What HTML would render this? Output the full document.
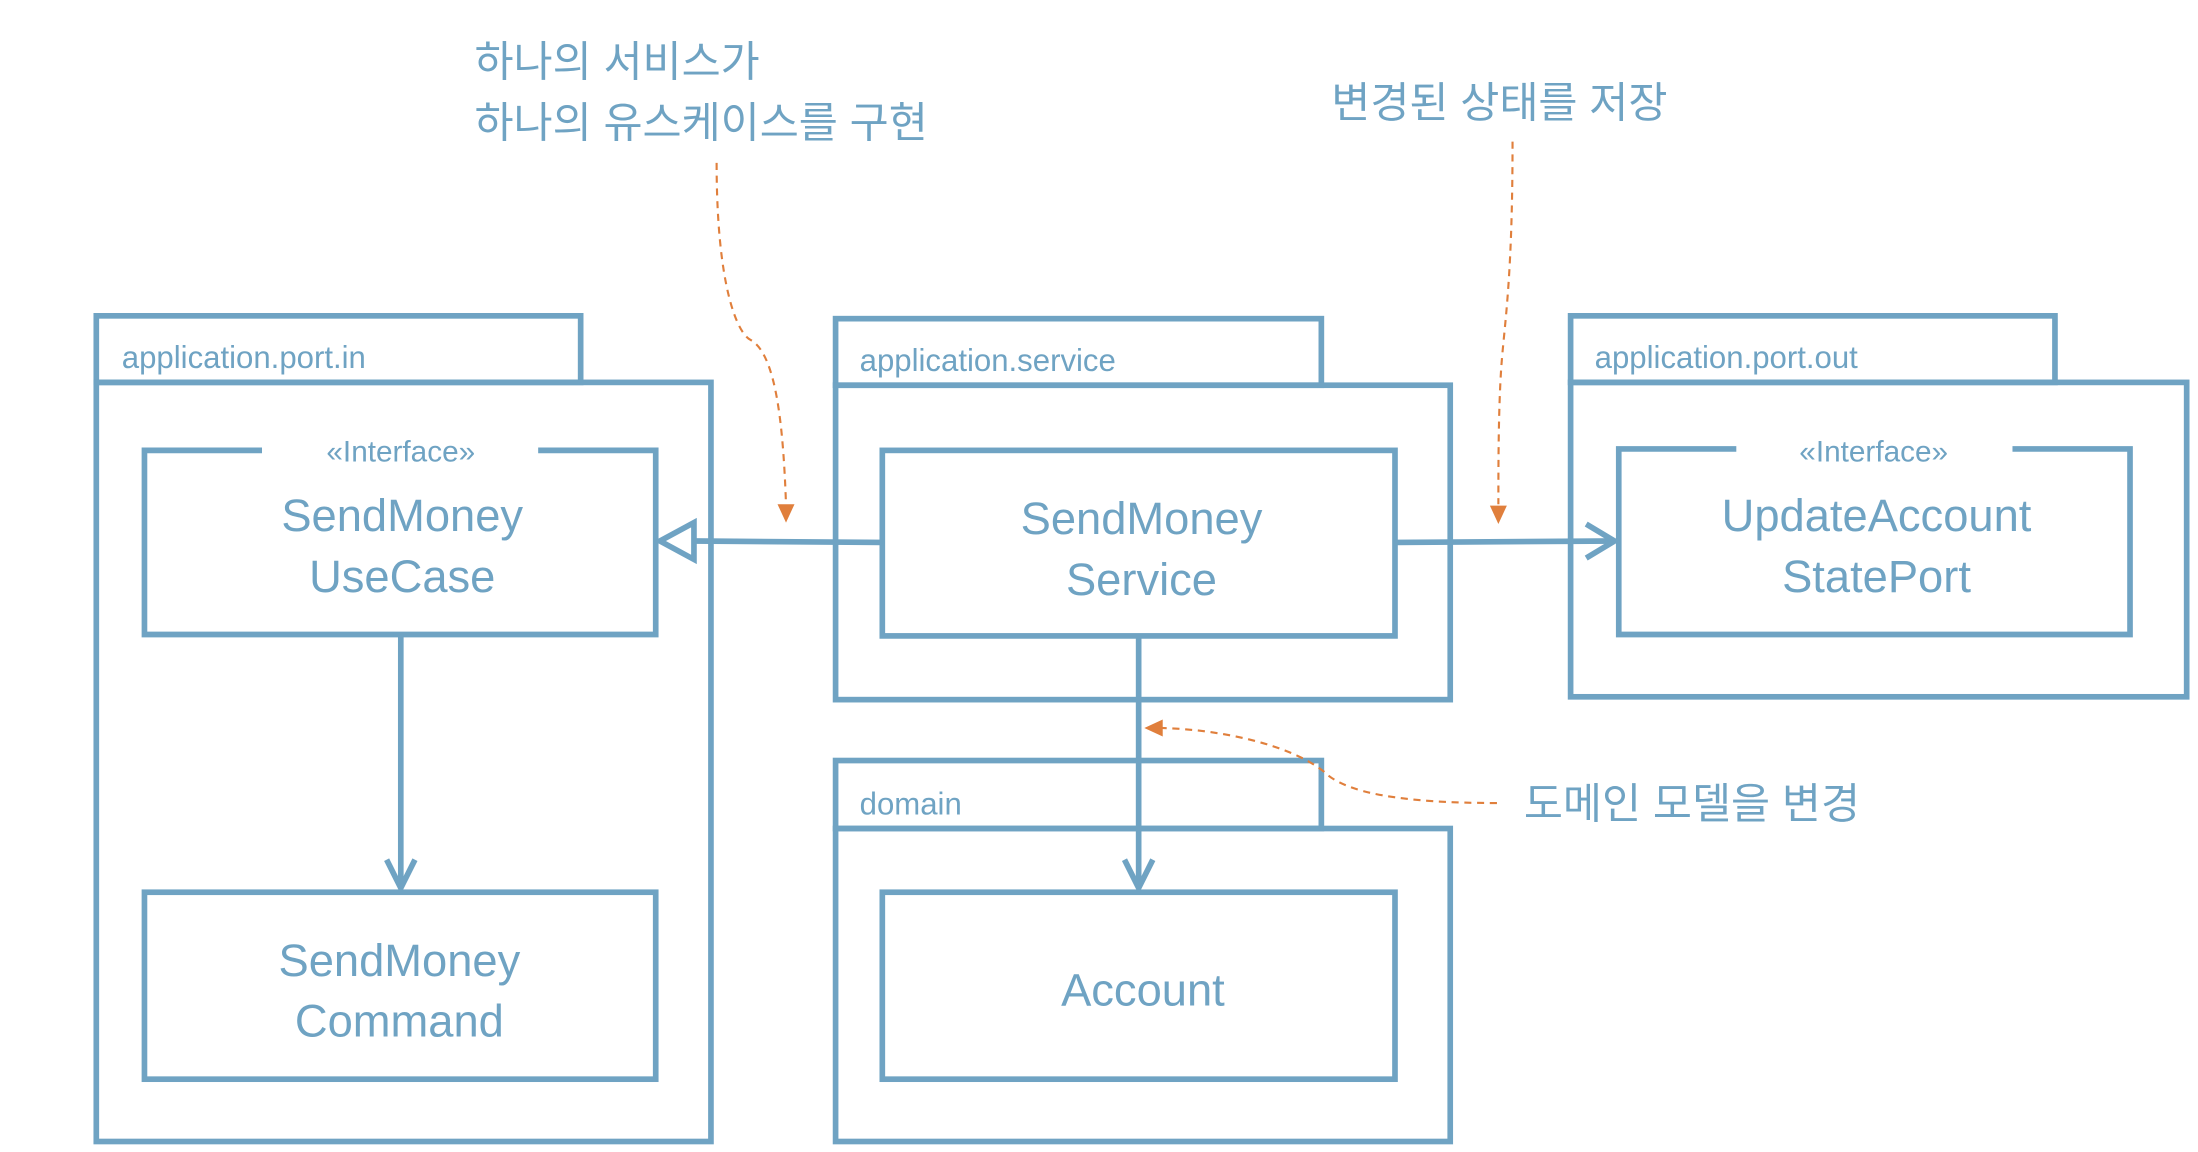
<!DOCTYPE html>
<html><head><meta charset="utf-8"><style>
html,body{margin:0;padding:0;background:#fff;}
svg{display:block;}
text{font-family:"Liberation Sans","Noto Sans CJK KR",sans-serif;fill:#6fa3c3;}
</style></head><body>
<svg width="2198" height="1152" viewBox="0 0 1552 813.4" xmlns="http://www.w3.org/2000/svg">
<g fill="none" stroke="#6fa3c3" stroke-width="4">
<!-- port.in -->
<rect x="68" y="223" width="342" height="47"/>
<rect x="68" y="270" width="434" height="536"/>
<path d="M185 318 H102 V448 H463 V318 H380"/>
<rect x="102" y="630" width="361" height="132"/>
<!-- service -->
<rect x="590" y="225" width="343" height="47"/>
<rect x="590" y="272" width="434" height="222"/>
<rect x="623" y="318" width="362" height="131"/>
<!-- domain -->
<rect x="590" y="537" width="343" height="48"/>
<rect x="590" y="585" width="434" height="221"/>
<rect x="623" y="630" width="362" height="132"/>
<!-- port.out -->
<rect x="1109" y="223" width="342" height="47"/>
<rect x="1109" y="270" width="435" height="222"/>
<path d="M1226 317 H1143 V448 H1504 V317 H1421"/>
<!-- connectors -->
<line x1="623" y1="383" x2="490" y2="382"/>
<path d="M490 369 L466 382 L490 395 Z"/>
<line x1="985" y1="383" x2="1140" y2="382"/>
<path d="M1120 370 L1140 382 L1120 394" />
<line x1="283" y1="449" x2="283" y2="627"/>
<path d="M273 607 L283 627 L293 607"/>
<line x1="804" y1="449" x2="804" y2="627"/>
<path d="M794 607 L804 627 L814 607"/>
</g>
<g fill="none" stroke="#e07f3c" stroke-width="1.5" stroke-dasharray="5,4">
<path d="M506 115 C506 200 520 235 530 240 C548 250 553 300 555 356"/>
<path d="M1068 100 C1068 200 1062 230 1060 260 C1058 290 1058 330 1058 356"/>
<path d="M1057 567 C990 567 950 560 935 545 C910 525 860 515 820 514"/>
</g>
<g fill="#e07f3c">
<path d="M549 356 L561 356 L555 369 Z"/>
<path d="M1052 357 L1064 357 L1058 370 Z"/>
<path d="M821 508 L821 520 L808 514 Z"/>
</g>
<g font-size="22">
<text x="86" y="260">application.port.in</text>
<text x="607" y="262">application.service</text>
<text x="607" y="575">domain</text>
<text x="1126" y="260">application.port.out</text>
</g>
<g font-size="21" text-anchor="middle">
<text x="283" y="326">«Interface»</text>
<text x="1323" y="326">«Interface»</text>
</g>
<g font-size="32" text-anchor="middle">
<text x="284" y="375">SendMoney</text>
<text x="284" y="418">UseCase</text>
<text x="282" y="689">SendMoney</text>
<text x="282" y="732">Command</text>
<text x="806" y="377">SendMoney</text>
<text x="806" y="420">Service</text>
<text x="807" y="710">Account</text>
<text x="1325" y="375">UpdateAccount</text>
<text x="1325" y="418">StatePort</text>
</g>
<g font-size="30">
<text x="335" y="54">하나의 서비스가</text>
<text x="335" y="97">하나의 유스케이스를 구현</text>
<text x="940" y="83">변경된 상태를 저장</text>
<text x="1076" y="578">도메인 모델을 변경</text>
</g>
</svg>
</body></html>
